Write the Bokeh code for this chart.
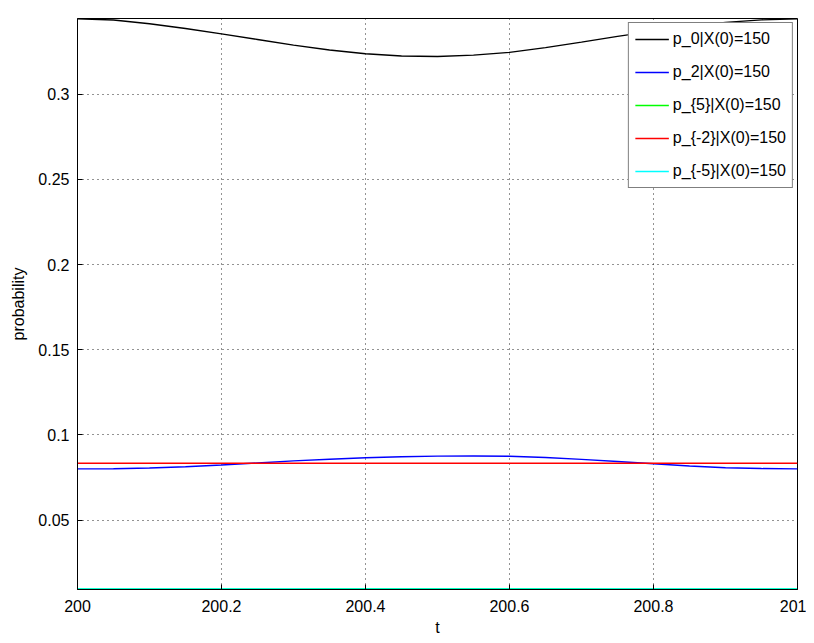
from bokeh.plotting import figure
from bokeh.models import Range1d, FixedTicker, Legend, LegendItem
from bokeh.embed import file_html
from bokeh.resources import INLINE

t = [200.00, 200.05, 200.10, 200.15, 200.20, 200.25, 200.30, 200.35, 200.40, 200.45, 200.50,
     200.55, 200.60, 200.65, 200.70, 200.75, 200.80, 200.85, 200.90, 200.95, 201.00]
p_0 = [0.3443, 0.3436, 0.3414, 0.3386, 0.3355, 0.3322, 0.3289, 0.3260, 0.3238, 0.3225, 0.3222,
       0.3230, 0.3246, 0.3274, 0.3306, 0.3340, 0.3371, 0.3400, 0.3422, 0.3437, 0.3443]
p_2 = [0.0801, 0.0802, 0.0806, 0.0814, 0.0824, 0.0836, 0.0848, 0.0858, 0.0866, 0.0872, 0.0876,
       0.0877, 0.0875, 0.0868, 0.0857, 0.0844, 0.0831, 0.0818, 0.0808, 0.0803, 0.0801]
p_5 = [0.00960, 0.00960, 0.00961, 0.00963, 0.00965, 0.00967, 0.00969, 0.00971, 0.00973, 0.00974, 0.00975,
       0.00975, 0.00974, 0.00973, 0.00971, 0.00969, 0.00966, 0.00964, 0.00962, 0.00961, 0.00960]
p_m2 = [0.0834, 0.0834, 0.0834, 0.0834, 0.0834, 0.0834, 0.0834, 0.0834, 0.0834, 0.0834, 0.0834,
        0.0834, 0.0834, 0.0834, 0.0834, 0.0834, 0.0834, 0.0834, 0.0834, 0.0834, 0.0834]
p_m5 = [0.0096] * 21

x_ticks = [200, 200.2, 200.4, 200.6, 200.8, 201]
x_tick_labels = ["200", "200.2", "200.4", "200.6", "200.8", "201"]
y_ticks = [0.05, 0.1, 0.15, 0.2, 0.25, 0.3]
y_tick_labels = ["0.05", "0.1", "0.15", "0.2", "0.25", "0.3"]

labels = ["p_0|X(0)=150", "p_2|X(0)=150", "p_{5}|X(0)=150", "p_{-2}|X(0)=150", "p_{-5}|X(0)=150"]
colors = ["#000000", "#0000ff", "#00ff00", "#ff0000", "#00ffff"]
series = [p_0, p_2, p_5, p_m2, p_m5]

FONT = "Liberation Sans"

p = figure(width=806, height=638, output_backend="svg", toolbar_location=None,
           x_range=Range1d(200, 201), y_range=Range1d(0.0093, 0.3445),
           min_border_left=77, min_border_right=9, min_border_top=18, min_border_bottom=48)
p.background_fill_color = "white"
p.border_fill_color = "white"
p.outline_line_color = "black"
p.outline_line_width = 1

items = []
for ys, c, lab in zip(series, colors, labels):
    r = p.line(t, ys, line_color=c, line_width=1.4)
    items.append(LegendItem(label=lab, renderers=[r]))

for ax in p.xaxis:
    ax.ticker = FixedTicker(ticks=x_ticks)
    ax.major_label_overrides = {k: v for k, v in zip(x_ticks, x_tick_labels)}
    ax.axis_label = "t"
    ax.axis_label_standoff = 4
    ax.major_label_standoff = 10
for ax in p.yaxis:
    ax.ticker = FixedTicker(ticks=y_ticks)
    ax.major_label_overrides = {k: v for k, v in zip(y_ticks, y_tick_labels)}
    ax.axis_label = "probability"
    ax.axis_label_standoff = 8
    ax.major_label_standoff = 8

for ax in list(p.xaxis) + list(p.yaxis):
    ax.major_tick_in = 5
    ax.major_tick_out = 0
    ax.minor_tick_in = 0
    ax.minor_tick_out = 0
    ax.axis_line_color = "black"
    ax.major_tick_line_color = "black"
    ax.major_label_text_font = FONT
    ax.major_label_text_font_size = "16px"
    ax.major_label_text_color = "black"
    ax.axis_label_text_font = FONT
    ax.axis_label_text_font_size = "16px"
    ax.axis_label_text_font_style = "normal"
    ax.axis_label_text_color = "black"

for g in (p.xgrid, p.ygrid):
    g.grid_line_color = "black"
    g.grid_line_alpha = 0.85
    g.grid_line_dash = "1 4"
    g.grid_line_width = 1
p.xgrid.ticker = FixedTicker(ticks=x_ticks)
p.ygrid.ticker = FixedTicker(ticks=y_ticks)

legend = Legend(items=items, location="top_right")
legend.margin = 4
legend.border_line_color = "black"
legend.border_line_width = 1
legend.background_fill_color = "white"
legend.background_fill_alpha = 1
legend.label_text_font = FONT
legend.label_text_font_size = "16px"
legend.label_text_color = "black"
legend.glyph_width = 34
legend.glyph_height = 20
legend.label_height = 20
legend.spacing = 13
legend.padding = 6
legend.label_standoff = 4
p.add_layout(legend)

open("out.html", "w").write(file_html(p, INLINE))
